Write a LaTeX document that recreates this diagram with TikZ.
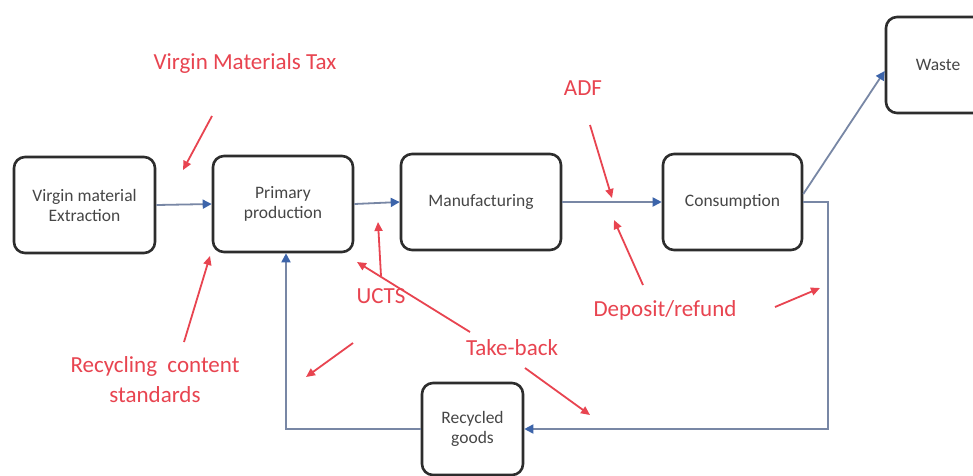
\documentclass[tikz,border=0pt]{standalone}
\usepackage{fontspec}
\setmainfont{Carlito}
\usetikzlibrary{arrows.meta}
\definecolor{pol}{RGB}{232,68,80}
\definecolor{flow}{RGB}{120,135,165}
\definecolor{flowtip}{RGB}{60,100,170}
\definecolor{boxline}{RGB}{45,45,45}
\definecolor{boxtext}{RGB}{70,70,70}
\begin{document}
\begin{tikzpicture}[x=1pt,y=-1pt,
 box/.style={draw=boxline, line width=2.6pt, rounded corners=11pt, fill=white, inner sep=0pt, align=center, font=\fontsize{17.5}{20}\selectfont, text=boxtext},
 flowarrow/.style={draw=flow, line width=1.8pt, -{Triangle[length=9pt,width=9pt,color=flowtip]}},
 polarrow/.style={draw=pol, line width=1.8pt, -{Triangle[length=9pt,width=8pt]}},
 pollabel/.style={text=pol, font=\fontsize{23}{30}\selectfont}]
\clip (0,0) rectangle (973,475);
\fill[white] (0,0) rectangle (973,475);
% process boxes
\node[box, minimum width=141, minimum height=96] (ext) at (84.5,205) {Virgin material\\Extraction};
\node[box, minimum width=140, minimum height=96] (prim) at (283,204) {Primary\\production};
\node[box, minimum width=160, minimum height=96] (man) at (481,202) {Manufacturing};
\node[box, minimum width=139, minimum height=96] (cons) at (732.5,202) {Consumption};
\node[box, minimum width=104, minimum height=96] (waste) at (938,65) {Waste};
\node[box, minimum width=101, minimum height=92] (rec) at (472.5,429) {Recycled\\goods};
% flows
\coordinate (fbR) at (828,429);
\draw[flowarrow] (ext.east) -- (prim.west);
\draw[flowarrow] (prim.east) -- (man.west);
\draw[flowarrow] (man.east) -- (cons.west);
\draw[flowarrow] ([yshift=8pt]cons.east) -- ([yshift=-6pt]waste.west);
\draw[flowarrow] (cons.east) -| (fbR) -- (rec.east);
\draw[flowarrow] (rec.west) -| ([xshift=3pt]prim.south);
% policy labels
\node[pollabel] (vmt) at (245,63) {Virgin Materials Tax};
\node[pollabel] (adf) at (583,88) {ADF};
\node[pollabel] (dep) at (665,310) {Deposit/refund};
\node[pollabel] (ucts) at (381,296) {UCTS};
\node[pollabel] (tb) at (512,348) {Take-back};
\node[pollabel, align=center] (rcs) at (155,380) {Recycling\ \ content\\standards};
% policy arrows
\coordinate (vmtA) at (212,116); \coordinate (vmtB) at (183,170);
\coordinate (adfA) at (590,125); \coordinate (adfB) at (612,198);
\coordinate (depA) at (643,285); \coordinate (depB) at (614,220);
\coordinate (depC) at (775,307); \coordinate (depD) at (820,288);
\coordinate (ucA) at (381,276); \coordinate (ucB) at (378,222);
\coordinate (ucC) at (353,343); \coordinate (ucD) at (306,377);
\coordinate (tbA) at (470,332); \coordinate (tbB) at (357,262);
\coordinate (tbC) at (525,368); \coordinate (tbD) at (590,415);
\coordinate (rcA) at (184,342); \coordinate (rcB) at (210,256);
\draw[polarrow] (vmtA) -- (vmtB);
\draw[polarrow] (adfA) -- (adfB);
\draw[polarrow] (depA) -- (depB);
\draw[polarrow] (depC) -- (depD);
\draw[polarrow] (ucA) -- (ucB);
\draw[polarrow] (ucC) -- (ucD);
\draw[polarrow] (tbA) -- (tbB);
\draw[polarrow] (tbC) -- (tbD);
\draw[polarrow] (rcA) -- (rcB);
\end{tikzpicture}
\end{document}
